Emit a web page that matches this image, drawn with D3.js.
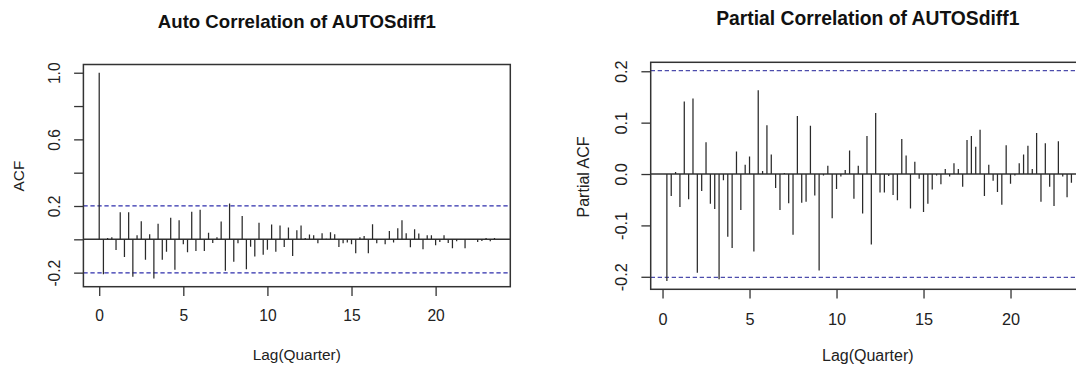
<!DOCTYPE html>
<html lang="en">
  <head>
    <meta charset="utf-8" />
    <title>ACF and PACF of AUTOSdiff1</title>
    <script src="https://d3js.org/d3.v7.min.js"></script>
    <style>
      body { margin: 0; background: #fff; }
      text { font-family: "Liberation Sans", Arial, sans-serif; fill: #222; }
    </style>
  </head>
  <body>
    <svg id="chart" width="1076" height="365"></svg>
    <script>
    // ACF values, lag 0 .. 23.5 in steps of one quarter (0.25)
    var acfValues = [
      1.0, -0.21, 0.008, 0.012, -0.064, 0.162, -0.106, 0.162, -0.224, 0.024,
      0.108, -0.122, 0.03, -0.235, 0.094, -0.122, -0.075, 0.13, -0.183, 0.114,
      -0.03, -0.077, 0.165, -0.07, 0.178, -0.07, 0.04, -0.022, 0.012, 0.107,
      -0.189, 0.215, -0.134, -0.023, 0.14, -0.18, -0.045, -0.103, 0.10, -0.092,
      -0.062, 0.089, -0.074, 0.083, -0.046, 0.071, -0.10, 0.054, 0.083, 0.008,
      0.029, 0.024, -0.024, 0.036, 0.003, 0.042, 0.031, -0.046, -0.024, -0.019,
      -0.03, -0.083, 0.012, 0.02, -0.083, 0.09, -0.024, -0.003, -0.029, 0.05,
      -0.019, 0.067, 0.115, 0.036, -0.048, 0.06, 0.035, -0.059, 0.024, 0.024,
      -0.036, -0.016, 0.024, -0.022, -0.054, -0.012, 0.002, -0.053, -0.002, 0.002,
      -0.016, -0.01, 0.008, -0.011, 0.008
    ];

    // PACF values, lag 0.25 .. 23.5
    var pacfValues = [
      -0.208, -0.043, 0.004, -0.064, 0.141, -0.049, 0.147, -0.192, -0.033, 0.062,
      -0.058, -0.068, -0.205, -0.012, -0.122, -0.144, 0.044, -0.07, 0.018, 0.034,
      -0.151, 0.163, 0.006, 0.095, 0.038, -0.027, -0.07, 0.002, -0.057, -0.118,
      0.113, -0.056, -0.054, 0.094, -0.042, -0.188, -0.003, 0.016, -0.086, -0.029,
      -0.005, 0.008, 0.046, -0.048, 0.016, -0.077, 0.074, -0.137, 0.119, -0.036,
      -0.036, -0.004, -0.041, -0.051, 0.068, 0.036, -0.067, 0.024, -0.009, -0.074,
      -0.058, -0.03, -0.003, -0.02, 0.01, -0.005, 0.021, 0.01, -0.025, 0.066,
      0.074, 0.053, 0.086, -0.043, 0.018, -0.013, -0.035, -0.06, 0.056, -0.019,
      -0.003, 0.021, 0.038, 0.055, 0.01, 0.08, -0.054, 0.06, -0.025, -0.062,
      0.064, -0.005, -0.045, -0.017
    ];

    var quartersPerUnit = 4;
    var acfLags = acfValues.map(function(v, i) { return i / quartersPerUnit; });
    var pacfLags = pacfValues.map(function(v, i) { return (i + 1) / quartersPerUnit; });

    var nObs = 95;
    var clim = 1.96 / Math.sqrt(nObs);

    var xTicks = [0, 5, 10, 15, 20];
    var acfYTicks = [-0.2, 0, 0.2, 0.4, 0.6, 0.8, 1.0];
    var acfYLabels = [-0.2, 0.2, 0.6, 1.0];
    var pacfYTicks = [-0.2, -0.1, 0, 0.1, 0.2];
    var pacfYLabels = [-0.2, -0.1, 0, 0.1, 0.2];

    var svg = d3.select("#chart");

    // R style 4% extension of a range
    function extend(ext) {
      var d = (ext[1] - ext[0]) * 0.04;
      return [ext[0] - d, ext[1] + d];
    }

    function drawPanel(p) {
      var g = svg.append("g");

      var x = d3.scaleLinear()
        .domain(extend(d3.extent(p.lags)))
        .range([p.left, p.right]);
      var yExt = d3.extent(p.values.concat([-clim, clim]));
      var y = d3.scaleLinear()
        .domain(extend(yExt))
        .range([p.bottom, p.top]);

      var w = p.right - p.left, h = p.bottom - p.top;

      // clip for lines inside the plot region
      var clipId = "clip-" + p.id;
      svg.append("clipPath").attr("id", clipId)
        .append("rect")
          .attr("x", p.left).attr("y", p.top)
          .attr("width", w).attr("height", h);

      var inner = g.append("g").attr("clip-path", "url(#" + clipId + ")");

      // confidence lines
      inner.selectAll(".ci")
        .data([clim, -clim])
        .enter().append("line")
          .attr("x1", p.left).attr("x2", p.right)
          .attr("y1", function(d) { return y(d); })
          .attr("y2", function(d) { return y(d); })
          .attr("stroke", p.ciColor)
          .attr("stroke-width", 1.3)
          .attr("stroke-dasharray", "4.3,2.7");

      // zero line
      inner.append("line")
        .attr("x1", p.left).attr("x2", p.right)
        .attr("y1", y(0)).attr("y2", y(0))
        .attr("stroke", "#333")
        .attr("stroke-width", 1.4);

      // spikes
      inner.selectAll(".spike")
        .data(p.values)
        .enter().append("line")
          .attr("class", "spike")
          .attr("x1", function(d, i) { return x(p.lags[i]); })
          .attr("x2", function(d, i) { return x(p.lags[i]); })
          .attr("y1", y(0))
          .attr("y2", function(d) { return y(d); })
          .attr("stroke", "#2a2a2a")
          .attr("stroke-width", 1.25);

      // box
      g.append("rect")
        .attr("x", p.left).attr("y", p.top)
        .attr("width", w).attr("height", h)
        .attr("fill", "none")
        .attr("stroke", "#333")
        .attr("stroke-width", 1.5);

      // x axis
      var xAxis = g.append("g")
        .attr("transform", "translate(0," + p.bottom + ")")
        .call(d3.axisBottom(x).tickValues(xTicks).tickSize(9.3).tickPadding(p.xPad)
          .tickFormat(function(d) { return String(d); }));
      xAxis.select(".domain").remove();
      xAxis.selectAll(".tick line").attr("stroke", "#333").attr("stroke-width", 1.3);
      xAxis.selectAll(".tick text")
        .style("font-size", p.tickFont + "px")
        .style("font-family", '"Liberation Sans", Arial, sans-serif')
        .attr("fill", "#222");

      // y axis, labels parallel to the axis
      var yAxis = g.append("g")
        .attr("transform", "translate(" + p.left + ",0)")
        .call(d3.axisLeft(y).tickValues(p.yTicks).tickSize(9.3)
          .tickFormat(function(d) {
            var show = p.yLabels.some(function(v) { return Math.abs(v - d) < 1e-9; });
            return show ? d.toFixed(1) : "";
          }));
      yAxis.select(".domain").remove();
      yAxis.selectAll(".tick line").attr("stroke", "#333").attr("stroke-width", 1.3);
      yAxis.selectAll(".tick text")
        .attr("transform", "rotate(-90)")
        .attr("x", 0)
        .attr("y", -p.yLabOff)
        .attr("dy", "0.35em")
        .attr("text-anchor", "middle")
        .style("font-size", p.tickFont + "px")
        .style("font-family", '"Liberation Sans", Arial, sans-serif')
        .attr("fill", "#222");

      // title
      g.append("text")
        .attr("x", p.titleX).attr("y", p.titleY)
        .attr("text-anchor", "middle")
        .style("font-size", p.titleFont + "px")
        .style("font-weight", "bold")
        .style("fill", "#111")
        .text(p.title);

      // x label
      g.append("text")
        .attr("x", p.titleX).attr("y", p.xLabY)
        .attr("text-anchor", "middle")
        .style("font-size", p.labFont + "px")
        .text("Lag(Quarter)");

      // y label
      g.append("text")
        .attr("transform", "translate(" + p.yLabX + "," + p.yLabCY + ") rotate(-90)")
        .attr("text-anchor", "middle")
        .attr("dy", "0.35em")
        .style("font-size", p.labFont + "px")
        .text(p.yTitle);
    }

    drawPanel({
      id: "acf", values: acfValues, lags: acfLags,
      left: 83.4, right: 510.3, top: 64.5, bottom: 286.7,
      yTicks: acfYTicks, yLabels: acfYLabels,
      ciColor: "#2e2eac",
      tickFont: 15.6, labFont: 15.4, titleFont: 18.6,
      xPad: 14.2, yLabOff: 28.4,
      title: "Auto Correlation of AUTOSdiff1", titleX: 296.8, titleY: 28.3,
      xLabY: 360, yTitle: "ACF", yLabX: 19, yLabCY: 176
    });

    drawPanel({
      id: "pacf", values: pacfValues, lags: pacfLags,
      left: 650.7, right: 1087.6, top: 62.3, bottom: 289.3,
      yTicks: pacfYTicks, yLabels: pacfYLabels,
      ciColor: "#4c4cac",
      tickFont: 16.3, labFont: 16, titleFont: 19.3,
      xPad: 14.7, yLabOff: 29,
      title: "Partial Correlation of AUTOSdiff1", titleX: 867.8, titleY: 25,
      xLabY: 360.8, yTitle: "Partial ACF", yLabX: 583.5, yLabCY: 177
    });
    </script>
  </body>
</html>
